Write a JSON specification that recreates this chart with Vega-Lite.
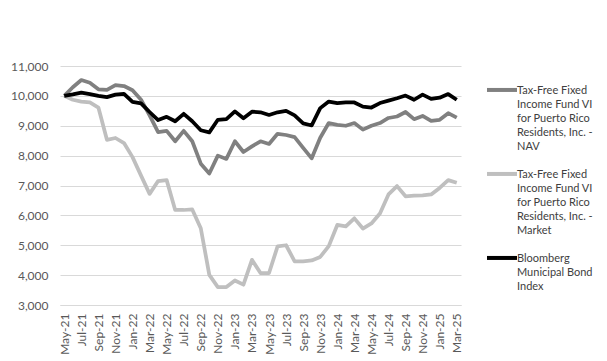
{
  "$schema": "https://vega.github.io/schema/vega-lite/v6.json",
  "width": 401,
  "height": 239,
  "autosize": {"type": "none"},
  "padding": {"left": 60, "top": 66, "right": 146, "bottom": 56},
  "background": "white",
  "data": {"values": [
    {"month": "May-21", "NAV": 10000, "Market": 10000, "Bloomberg": 10000},
    {"month": "Jun-21", "NAV": 10290, "Market": 9870, "Bloomberg": 10050},
    {"month": "Jul-21", "NAV": 10530, "Market": 9810, "Bloomberg": 10110},
    {"month": "Aug-21", "NAV": 10440, "Market": 9780, "Bloomberg": 10060},
    {"month": "Sep-21", "NAV": 10220, "Market": 9610, "Bloomberg": 10000},
    {"month": "Oct-21", "NAV": 10200, "Market": 8530, "Bloomberg": 9960},
    {"month": "Nov-21", "NAV": 10360, "Market": 8590, "Bloomberg": 10040},
    {"month": "Dec-21", "NAV": 10330, "Market": 8420, "Bloomberg": 10070},
    {"month": "Jan-22", "NAV": 10190, "Market": 7950, "Bloomberg": 9800},
    {"month": "Feb-22", "NAV": 9870, "Market": 7330, "Bloomberg": 9750},
    {"month": "Mar-22", "NAV": 9350, "Market": 6720, "Bloomberg": 9460},
    {"month": "Apr-22", "NAV": 8790, "Market": 7150, "Bloomberg": 9190},
    {"month": "May-22", "NAV": 8830, "Market": 7180, "Bloomberg": 9300},
    {"month": "Jun-22", "NAV": 8480, "Market": 6180, "Bloomberg": 9150},
    {"month": "Jul-22", "NAV": 8830, "Market": 6180, "Bloomberg": 9400},
    {"month": "Aug-22", "NAV": 8480, "Market": 6200, "Bloomberg": 9150},
    {"month": "Sep-22", "NAV": 7730, "Market": 5570, "Bloomberg": 8850},
    {"month": "Oct-22", "NAV": 7400, "Market": 4010, "Bloomberg": 8780},
    {"month": "Nov-22", "NAV": 8000, "Market": 3600, "Bloomberg": 9200},
    {"month": "Dec-22", "NAV": 7890, "Market": 3600, "Bloomberg": 9220},
    {"month": "Jan-23", "NAV": 8480, "Market": 3820, "Bloomberg": 9480},
    {"month": "Feb-23", "NAV": 8120, "Market": 3680, "Bloomberg": 9250},
    {"month": "Mar-23", "NAV": 8310, "Market": 4510, "Bloomberg": 9470},
    {"month": "Apr-23", "NAV": 8480, "Market": 4070, "Bloomberg": 9450},
    {"month": "May-23", "NAV": 8390, "Market": 4070, "Bloomberg": 9360},
    {"month": "Jun-23", "NAV": 8730, "Market": 4960, "Bloomberg": 9450},
    {"month": "Jul-23", "NAV": 8690, "Market": 5000, "Bloomberg": 9500},
    {"month": "Aug-23", "NAV": 8620, "Market": 4460, "Bloomberg": 9350},
    {"month": "Sep-23", "NAV": 8260, "Market": 4460, "Bloomberg": 9080},
    {"month": "Oct-23", "NAV": 7910, "Market": 4490, "Bloomberg": 9010},
    {"month": "Nov-23", "NAV": 8600, "Market": 4610, "Bloomberg": 9590},
    {"month": "Dec-23", "NAV": 9090, "Market": 4970, "Bloomberg": 9810},
    {"month": "Jan-24", "NAV": 9030, "Market": 5680, "Bloomberg": 9760},
    {"month": "Feb-24", "NAV": 9000, "Market": 5630, "Bloomberg": 9780},
    {"month": "Mar-24", "NAV": 9090, "Market": 5900, "Bloomberg": 9780},
    {"month": "Apr-24", "NAV": 8870, "Market": 5560, "Bloomberg": 9640},
    {"month": "May-24", "NAV": 9000, "Market": 5730, "Bloomberg": 9610},
    {"month": "Jun-24", "NAV": 9090, "Market": 6060, "Bloomberg": 9760},
    {"month": "Jul-24", "NAV": 9260, "Market": 6700, "Bloomberg": 9840},
    {"month": "Aug-24", "NAV": 9310, "Market": 6980, "Bloomberg": 9920},
    {"month": "Sep-24", "NAV": 9460, "Market": 6640, "Bloomberg": 10010},
    {"month": "Oct-24", "NAV": 9220, "Market": 6660, "Bloomberg": 9870},
    {"month": "Nov-24", "NAV": 9330, "Market": 6670, "Bloomberg": 10040},
    {"month": "Dec-24", "NAV": 9160, "Market": 6700, "Bloomberg": 9900},
    {"month": "Jan-25", "NAV": 9200, "Market": 6920, "Bloomberg": 9940},
    {"month": "Feb-25", "NAV": 9420, "Market": 7180, "Bloomberg": 10060},
    {"month": "Mar-25", "NAV": 9270, "Market": 7090, "Bloomberg": 9870}
  ]},
  "transform": [{"fold": ["Market", "NAV", "Bloomberg"], "as": ["series", "value"]}],
  "mark": {"type": "line", "strokeWidth": 3.75, "strokeJoin": "round"},
  "encoding": {
    "x": {
      "field": "month", "type": "ordinal", "sort": null,
      "scale": {"type": "point", "padding": 0.5},
      "axis": {
        "title": null,
        "values": ["May-21","Jul-21","Sep-21","Nov-21","Jan-22","Mar-22","May-22","Jul-22","Sep-22","Nov-22","Jan-23","Mar-23","May-23","Jul-23","Sep-23","Nov-23","Jan-24","Mar-24","May-24","Jul-24","Sep-24","Nov-24","Jan-25","Mar-25"],
        "labelAngle": 270, "labelAlign": "right", "labelBaseline": "middle",
        "labelPadding": 8, "ticks": false, "grid": false,
        "domainColor": "#d9d9d9", "domainWidth": 1
      }
    },
    "y": {
      "field": "value", "type": "quantitative",
      "scale": {"domain": [3000, 11000], "nice": false, "zero": false},
      "axis": {
        "title": null,
        "values": [3000, 4000, 5000, 6000, 7000, 8000, 9000, 10000, 11000],
        "format": ",.0f", "domain": false, "ticks": false, "labelPadding": 12,
        "grid": true, "gridColor": "#d9d9d9", "gridWidth": 1
      }
    },
    "color": {
      "field": "series", "type": "nominal",
      "scale": {"domain": ["NAV", "Market", "Bloomberg"], "range": ["#808080", "#BFBFBF", "#000000"]},
      "legend": {
        "title": null,
        "orient": "none",
        "legendX": 425,
        "legendY": 2,
        "symbolType": "M-1,0.33H1",
        "symbolSize": 900,
        "symbolStrokeWidth": 4,
        "labelOffset": -2,
        "labelBaseline": "top",
        "labelLimit": 200,
        "labelFont": "Lato",
        "labelFontSize": 11,
        "labelColor": "#404040",
        "rowPadding": 0,
        "labelExpr": "datum.value == 'NAV' ? ['Tax-Free Fixed', 'Income Fund VI', 'for Puerto Rico', 'Residents, Inc. -', 'NAV'] : datum.value == 'Market' ? ['Tax-Free Fixed', 'Income Fund VI', 'for Puerto Rico', 'Residents, Inc. -', 'Market'] : [' Bloomberg', 'Municipal Bond', 'Index']"
      }
    }
  },
  "config": {
    "view": {"stroke": null},
    "font": "Lato",
    "axis": {"labelFont": "Lato", "labelFontSize": 12, "labelColor": "#595959"},
    "style": {"guide-label": {"lineHeight": 14}}
  }
}
